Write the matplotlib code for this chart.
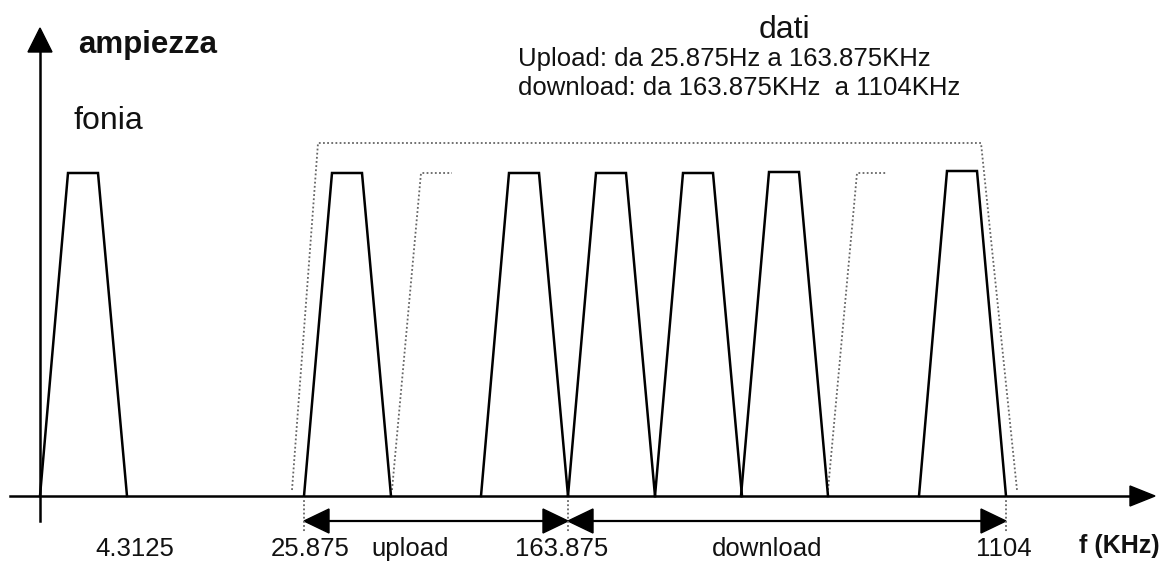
import matplotlib.pyplot as plt
from matplotlib.patches import Polygon

plt.rcParams['font.family'] = ['Liberation Sans', 'DejaVu Sans']

# diagram coordinates (pixel-like units, y grows downward)
base_y = 496
band_left = [40, 304, 481, 568, 655, 741, 919]
band_top = [173, 173, 173, 173, 173, 172, 171]
band_width = 87
top_inset = (28, 58)

envelope = [(292, 490), (318, 143), (981, 143), (1017, 490)]
partial_1 = [(392, 490), (421, 173), (452, 173)]
partial_2 = [(828, 490), (857, 173), (887, 173)]
marker_x = [304, 568, 1006]

tick_x = [135, 310, 562, 1004]
tick_labels = ['4.3125', '25.875', '163.875', '1104']
range_x = [410, 767]
range_labels = ['upload', 'download']
ranges = [(304, 568), (568, 1006)]

txt = '#111111'
dot_style = dict(color='#666666', lw=1.3, linestyle=(0, (1, 1.3)))

fig = plt.figure(figsize=(11.71, 5.61), dpi=100)
ax = fig.add_axes([0, 0, 1, 1])
ax.set_xlim(0, 1171)
ax.set_ylim(561, 0)
ax.axis('off')

# axes with arrowheads
ax.plot([10, 1132], [base_y, base_y], color='black', lw=1.8)
ax.add_patch(Polygon([(1130, base_y - 10), (1155, base_y), (1130, base_y + 10)],
                     closed=True, color='black'))
ax.plot([40, 40], [521, 50], color='black', lw=1.8)
ax.add_patch(Polygon([(28, 52), (40, 28), (52, 52)], closed=True, color='black'))

# dotted envelopes
for pts in [envelope, partial_1, partial_2]:
    ax.plot([p[0] for p in pts], [p[1] for p in pts], **dot_style)
for x in marker_x:
    ax.plot([x, x], [base_y, 532], **dot_style)

# spectrum bands (trapezoids)
for left, top in zip(band_left, band_top):
    xs = [left, left + top_inset[0], left + top_inset[1], left + band_width]
    ys = [base_y, top, top, base_y]
    ax.plot(xs, ys, color='black', lw=1.8, solid_joinstyle='miter')

# double arrows for upload / download
ay = 521
for a, b in ranges:
    ax.plot([a + 20, b - 20], [ay, ay], color='black', lw=1.6)
    ax.add_patch(Polygon([(a, ay), (a + 25, ay - 12), (a + 25, ay + 12)], closed=True, color='black'))
    ax.add_patch(Polygon([(b, ay), (b - 25, ay - 12), (b - 25, ay + 12)], closed=True, color='black'))

# labels
for x, s in zip(tick_x, tick_labels):
    ax.text(x, 556, s, ha='center', va='baseline', fontsize=18.5, color=txt)
for x, s in zip(range_x, range_labels):
    ax.text(x, 556, s, ha='center', va='baseline', fontsize=18.5, color=txt)
ax.text(1119, 553, 'f (KHz)', ha='center', va='baseline', fontsize=18, fontweight='bold', color=txt)

ax.text(78, 53, 'ampiezza', ha='left', va='baseline', fontsize=22.5, fontweight='bold', color=txt)
ax.text(73, 129, 'fonia', ha='left', va='baseline', fontsize=23, color=txt)
ax.text(784, 38, 'dati', ha='center', va='baseline', fontsize=23, color=txt)
ax.text(518, 66, 'Upload: da 25.875Hz a 163.875KHz', ha='left', va='baseline', fontsize=18.5, color=txt)
ax.text(518, 95, 'download: da 163.875KHz  a 1104KHz', ha='left', va='baseline', fontsize=18.5, color=txt)

fig.savefig('out.png', dpi=100)
